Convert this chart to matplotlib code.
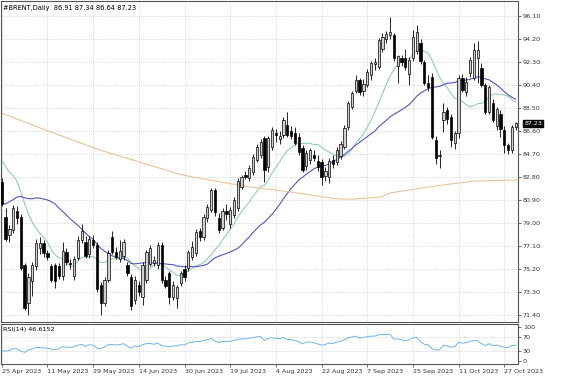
import matplotlib
matplotlib.use("Agg")
import matplotlib.pyplot as plt
import matplotlib.transforms as mtransforms
import numpy as np
import pandas as pd

# ---------------- data ----------------
opens = [82.4, 79.5, 78.0, 78.4, 80.0, 79.5, 75.5, 72.4, 74.2, 75.4,
         76.9, 77.3, 76.5, 75.4, 75.5, 75.4, 74.6, 76.6, 75.7, 74.6,
         76.1, 77.6, 77.4, 76.4, 77.6, 77.2, 73.9, 72.4, 74.3, 77.8,
         76.6, 76.0, 76.3, 75.5, 74.5, 72.6, 73.9, 72.9, 74.3, 75.6,
         75.7, 75.5, 77.2, 74.3, 74.85, 72.9, 72.8, 74.0, 75.2, 75.3,
         76.2, 76.5, 78.3, 77.8, 79.4, 80.1, 81.7, 79.4, 78.6, 80.0,
         78.9, 79.65, 80.2, 82.0, 83.0, 82.7, 83.2, 84.2, 84.6, 86.0,
         83.6, 85.3, 86.4, 85.9, 86.3, 87.1, 86.6, 86.4, 86.1, 85.2,
         83.7, 84.2, 84.6, 84.1, 84.0, 82.9, 82.8, 84.2, 84.05, 84.5,
         85.3, 86.9, 88.6, 89.9, 90.8, 89.9, 90.4, 91.2, 92.1, 91.9,
         93.4, 94.2, 94.5, 94.5, 92.0, 92.6, 92.6, 91.3, 92.6, 93.2,
         93.9, 92.3, 90.6, 91.1, 85.85, 84.5, 87.5, 88.3, 87.75, 85.6,
         86.4, 91.0, 89.8, 91.4, 91.0, 92.6, 91.8, 90.4, 88.2, 88.9,
         87.0, 88.0, 86.7, 85.4, 85.0, 86.91]
highs = [82.7, 80.2, 78.8, 80.5, 80.4, 79.7, 75.7, 74.9, 75.8, 77.7,
         77.8, 77.6, 76.8, 75.6, 75.7, 75.7, 77.4, 76.9, 76.0, 76.3,
         77.9, 78.9, 77.9, 77.9, 78.0, 77.4, 74.1, 74.5, 76.8, 78.3,
         77.0, 77.6, 77.7, 75.8, 74.8, 74.6, 74.2, 75.8, 76.8, 77.2,
         76.3, 77.4, 77.4, 74.6, 75.0, 74.2, 73.9, 75.0, 75.5, 76.8,
         77.5, 78.5, 78.6, 79.7, 80.6, 81.9, 81.9, 79.8, 80.2, 80.6,
         80.3, 81.1, 82.7, 83.0, 83.3, 83.8, 84.7, 85.5, 85.9, 86.2,
         86.2, 86.9, 86.8, 86.6, 87.75, 88.2, 87.0, 86.9, 86.4, 85.4,
         85.0, 85.2, 85.0, 84.6, 84.3, 83.6, 84.4, 84.6, 85.3, 85.8,
         87.1, 89.1, 89.9, 91.2, 91.0, 90.9, 91.7, 92.4, 92.6, 94.3,
         94.7, 94.9, 96.0, 94.7, 92.9, 92.9, 93.4, 92.7, 94.95, 95.35,
         94.2, 92.5, 91.2, 91.4, 86.2, 85.0, 88.9, 88.6, 88.0, 86.6,
         91.2, 91.3, 91.1, 92.7, 93.9, 94.0, 92.2, 90.6, 90.4, 89.2,
         88.6, 88.3, 87.0, 85.6, 87.1, 87.34]
lows = [80.4, 77.5, 77.4, 78.2, 78.9, 75.1, 71.8, 71.4, 73.0, 75.1,
        76.4, 76.2, 75.9, 74.1, 73.6, 74.4, 74.3, 75.5, 75.2, 74.3,
        75.9, 77.3, 76.1, 76.1, 76.9, 73.3, 71.4, 72.1, 74.1, 76.4,
        76.0, 75.8, 75.9, 74.6, 71.8, 72.3, 73.0, 72.2, 74.0, 75.4,
        75.4, 75.2, 74.0, 73.6, 72.3, 72.6, 72.0, 73.8, 74.2, 75.0,
        75.9, 76.3, 77.5, 77.6, 79.1, 79.9, 79.6, 78.2, 78.4, 79.2,
        78.6, 79.4, 80.0, 81.8, 82.6, 82.5, 83.0, 84.0, 84.4, 82.4,
        83.2, 85.0, 85.7, 85.5, 86.0, 86.1, 85.9, 85.4, 84.6, 83.2,
        83.4, 83.9, 84.1, 83.3, 82.1, 82.5, 82.3, 83.5, 83.8, 84.3,
        85.1, 86.7, 88.4, 89.7, 89.6, 89.5, 90.2, 90.8, 91.6, 91.7,
        93.1, 93.9, 94.2, 92.4, 90.6, 92.0, 91.6, 90.4, 92.4, 93.0,
        92.1, 90.4, 89.9, 85.9, 83.9, 83.5, 86.5, 87.2, 85.3, 85.1,
        86.0, 89.8, 89.5, 91.1, 90.8, 90.6, 90.2, 88.0, 88.0, 87.3,
        86.7, 86.1, 84.8, 84.7, 84.8, 86.64]
closes = [80.6, 77.7, 78.5, 80.2, 79.4, 75.3, 72.0, 74.5, 75.5, 77.3,
          77.3, 76.5, 76.2, 74.3, 74.2, 74.6, 76.7, 75.8, 75.6, 76.0,
          77.6, 78.3, 76.3, 77.7, 77.2, 73.5, 72.4, 74.3, 76.5, 76.6,
          76.2, 76.7, 77.4, 74.85, 72.1, 74.3, 73.3, 75.5, 76.6, 76.9,
          75.9, 77.2, 74.3, 73.8, 72.9, 73.9, 73.7, 74.85, 74.5, 76.6,
          77.0, 78.25, 77.85, 79.5, 80.3, 81.7, 79.9, 78.4, 80.0, 79.7,
          80.1, 80.9, 82.5, 82.8, 82.8, 83.5, 84.45, 85.3, 85.7, 83.4,
          86.0, 86.7, 86.3, 86.2, 87.5, 86.3, 86.2, 85.6, 84.85, 83.4,
          84.8, 85.0, 84.4, 83.6, 82.8, 83.3, 84.1, 83.9, 85.0, 85.5,
          86.85, 88.9, 89.7, 90.8, 89.8, 90.5, 91.5, 92.2, 92.3, 94.1,
          94.4, 94.6, 94.8, 92.6, 92.8, 92.3, 91.9, 92.5, 94.4, 94.8,
          92.4, 90.6, 90.2, 86.1, 84.35, 84.6, 88.2, 87.6, 85.85, 86.4,
          91.0, 90.0, 90.65, 92.45, 93.3, 93.3, 90.4, 88.2, 90.2, 87.5,
          88.4, 86.8, 85.4, 85.0, 86.9, 87.23]
# closes before the first visible bar (needed to warm up the averages and RSI)
history_closes = [77.45, 73.69, 74.70, 72.97, 73.79, 75.32, 76.69, 75.91, 74.99, 78.12,
                  78.65, 78.28, 78.60, 79.77, 84.93, 84.94, 84.99, 85.12, 84.18, 85.61,
                  87.33, 86.09, 86.31, 84.76, 84.77, 83.12, 81.10, 81.66, 82.73]
# slow moving average at a few bars
slow_ma_bars = [-0.3, 13, 26, 47, 50, 64.5, 76, 86.3, 89, 92.3, 99.5, 102, 112, 124, 135.5]
slow_ma_vals = [88.1, 86.5, 85.0, 83.0, 82.8, 82.0, 81.55, 81.06, 80.97, 80.97, 81.14, 81.47, 81.97, 82.46, 82.55]

date_labels = ["25 Apr 2023", "11 May 2023", "29 May 2023", "14 Jun 2023", "30 Jun 2023",
               "19 Jul 2023", "4 Aug 2023", "22 Aug 2023", "7 Sep 2023", "25 Sep 2023",
               "11 Oct 2023", "27 Oct 2023"]
price_ticks = [96.10, 94.20, 92.30, 90.40, 88.50, 86.60, 84.70, 82.80, 80.90, 79.00,
               77.10, 75.20, 73.30, 71.40]
rsi_ticks = [100, 70, 30, 0]
title_text = "#BRENT,Daily  86.91 87.34 86.64 87.23"
rsi_text = "RSI(14) 46.6152"
last_price = 87.23

# ---------------- computations ----------------
o = np.array(opens); h = np.array(highs); l = np.array(lows); c = np.array(closes)
n = len(c)
idx = np.arange(n)
all_close = pd.Series(history_closes + closes)
nh = len(history_closes)
ma_fast = all_close.rolling(14).mean().values[nh:]
ma_mid = all_close.rolling(30).mean().values[nh:]

delta = all_close.diff()
gain = delta.clip(lower=0)
loss = -delta.clip(upper=0)
avg_g = gain.ewm(alpha=1/14, adjust=False).mean()
avg_l = loss.ewm(alpha=1/14, adjust=False).mean()
rsi = (100 - 100 / (1 + avg_g / avg_l)).values[nh:]

# ---------------- figure ----------------
W, H = 564, 376
fig = plt.figure(figsize=(W/100, H/100), dpi=100)
fig.patch.set_facecolor("white")

def frac(x0, y0, x1, y1):
    return [x0/W, 1 - y1/H, (x1-x0)/W, (y1-y0)/H]

ax = fig.add_axes(frac(1, 1, 518, 322))
axr = fig.add_axes(frac(1, 324, 518, 364), sharex=ax)

xlim = (-0.2, 135.6)
ax.set_xlim(*xlim)
ax.set_ylim(70.81, 97.34)

grid_kw = dict(color="#cccccc", linestyle=(0, (1.5, 1.5)), linewidth=0.5)
tick_pos = np.arange(0, n, 12)[:len(date_labels)]
for p in price_ticks:
    ax.axhline(p, **grid_kw, zorder=0)
for t in tick_pos:
    ax.axvline(t, **grid_kw, zorder=0)
    axr.axvline(t, **grid_kw, zorder=0)

# moving averages
ax.plot(idx, ma_fast, color="#8fcfb6", lw=0.8, zorder=2)
ax.plot(idx, ma_mid, color="#5454c4", lw=0.8, zorder=2)
ax.plot(slow_ma_bars, slow_ma_vals, color="#e9c39a", lw=0.8, zorder=2)

# candles
up = c >= o
ax.vlines(idx, l, h, color="black", lw=0.6, zorder=3)
bottoms = np.minimum(o, c)
heights = np.maximum(np.abs(c - o), 0.04)
ax.bar(idx[up], heights[up], bottom=bottoms[up], width=0.6,
       color="#d0d0d0", edgecolor="black", linewidth=0.5, zorder=4)
ax.bar(idx[~up], heights[~up], bottom=bottoms[~up], width=0.6,
       color="black", edgecolor="black", linewidth=0.5, zorder=4)

# axes styling
for a in (ax, axr):
    for s in a.spines.values():
        s.set_color("#555555")
        s.set_linewidth(0.8)
    a.yaxis.tick_right()
    a.tick_params(axis="y", which="both", labelsize=4.6, length=2, width=0.5,
                  colors="#333333", pad=1.5)
ax.set_yticks(price_ticks)
ax.set_yticklabels([f"{p:.2f}" for p in price_ticks])
ax.tick_params(axis="x", bottom=False, labelbottom=False)

# price tag
trans = mtransforms.blended_transform_factory(ax.transAxes, ax.transData)
ax.text(1.012, last_price, f"{last_price:.2f}", transform=trans, fontsize=4.6,
        color="white", va="center", ha="left",
        bbox=dict(boxstyle="square,pad=0.15", fc="black", ec="black"), zorder=10,
        clip_on=False)

ax.text(0.004, 0.988, title_text, transform=ax.transAxes, fontsize=4.8,
        va="top", ha="left", color="black")

# RSI panel
axr.set_ylim(-8.8, 108.8)
axr.plot(idx, rsi, color="#6eb4e8", lw=0.7, zorder=3)
for lev in (70, 30):
    axr.axhline(lev, **grid_kw, zorder=0)
axr.set_yticks(rsi_ticks)
axr.set_yticklabels([str(v) for v in rsi_ticks])
axr.text(0.004, 0.93, rsi_text, transform=axr.transAxes, fontsize=4.6,
         va="top", ha="left", color="black")
axr.set_xticks(tick_pos)
axr.set_xticklabels(date_labels, ha="left")
axr.tick_params(axis="x", labelsize=4.6, length=2, width=0.5, colors="#333333", pad=1.5)
axr.set_xlim(*xlim)

fig.savefig("out.png", dpi=100, facecolor="white")
